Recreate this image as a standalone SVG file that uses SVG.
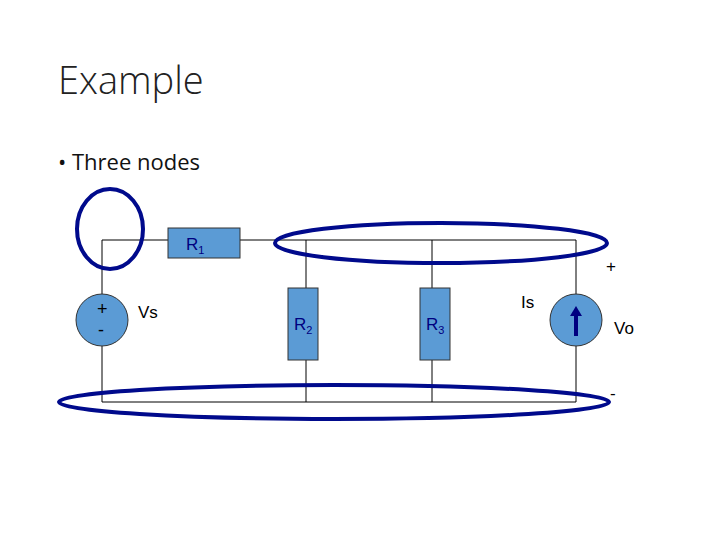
<svg xmlns="http://www.w3.org/2000/svg" width="720" height="540" viewBox="0 0 720 540">
<style>
.w{stroke:#000;stroke-width:1;fill:none}
.c{fill:#5b9bd5;stroke:#333;stroke-width:1}
.e{fill:none;stroke:#000a8c;stroke-width:4}
.t{font-family:"Liberation Sans",Arial,sans-serif;fill:#000}
.l{font-family:"Liberation Sans",Arial,sans-serif;fill:#000080;font-size:17px}
</style>
<rect width="720" height="540" fill="#fff"/>
<text x="58" y="94" font-family="'Open Sans','Liberation Sans',sans-serif" font-weight="300" font-size="38" fill="#222">Example</text>
<text x="58" y="170" font-family="'Open Sans','Liberation Sans',sans-serif" font-size="22" fill="#111">• Three nodes</text>
<g id="wires">
<polyline class="w" points="102,294 102,240 168,240"/>
<polyline class="w" points="240,240 576,240 576,294"/>
<polyline class="w" points="102,346 102,402 576,402 576,346"/>
<line class="w" x1="306" y1="240" x2="306" y2="288"/><line class="w" x1="306" y1="360" x2="306" y2="402"/>
<line class="w" x1="432" y1="240" x2="432" y2="288"/><line class="w" x1="432" y1="360" x2="432" y2="402"/>
</g>
<g id="R1"><rect class="c" x="168" y="228" width="72" height="30"/><text class="l" x="186" y="250">R<tspan font-size="11" dy="4">1</tspan></text></g>
<g id="R2"><rect class="c" x="288" y="288" width="30" height="72"/><text class="l" x="294" y="330">R<tspan font-size="11" dy="4">2</tspan></text></g>
<g id="R3"><rect class="c" x="420" y="288" width="30" height="72"/><text class="l" x="426" y="330">R<tspan font-size="11" dy="4">3</tspan></text></g>
<g id="Vs"><circle class="c" cx="102" cy="320" r="26"/><text class="t" x="97" y="315" font-size="18">+</text><text class="t" x="98" y="336" font-size="18">-</text><text class="t" x="138" y="318" font-size="17">Vs</text></g>
<g id="Is"><circle class="c" cx="576" cy="320" r="26"/><line x1="576" y1="336" x2="576" y2="314" stroke="#000080" stroke-width="4"/><polygon points="570,316 582,316 576,306" fill="#000080"/><text class="t" x="521" y="308" font-size="17">Is</text></g>
<g id="Vo"><text class="t" x="606" y="272" font-size="17">+</text><text class="t" x="614" y="334" font-size="17">Vo</text><text class="t" x="610" y="399" font-size="17">-</text></g>
<g id="nodes">
<ellipse class="e" cx="110" cy="229" rx="33" ry="40"/>
<ellipse class="e" cx="441" cy="243" rx="166" ry="20"/>
<ellipse class="e" cx="334" cy="402" rx="275" ry="17"/>
</g>
</svg>
